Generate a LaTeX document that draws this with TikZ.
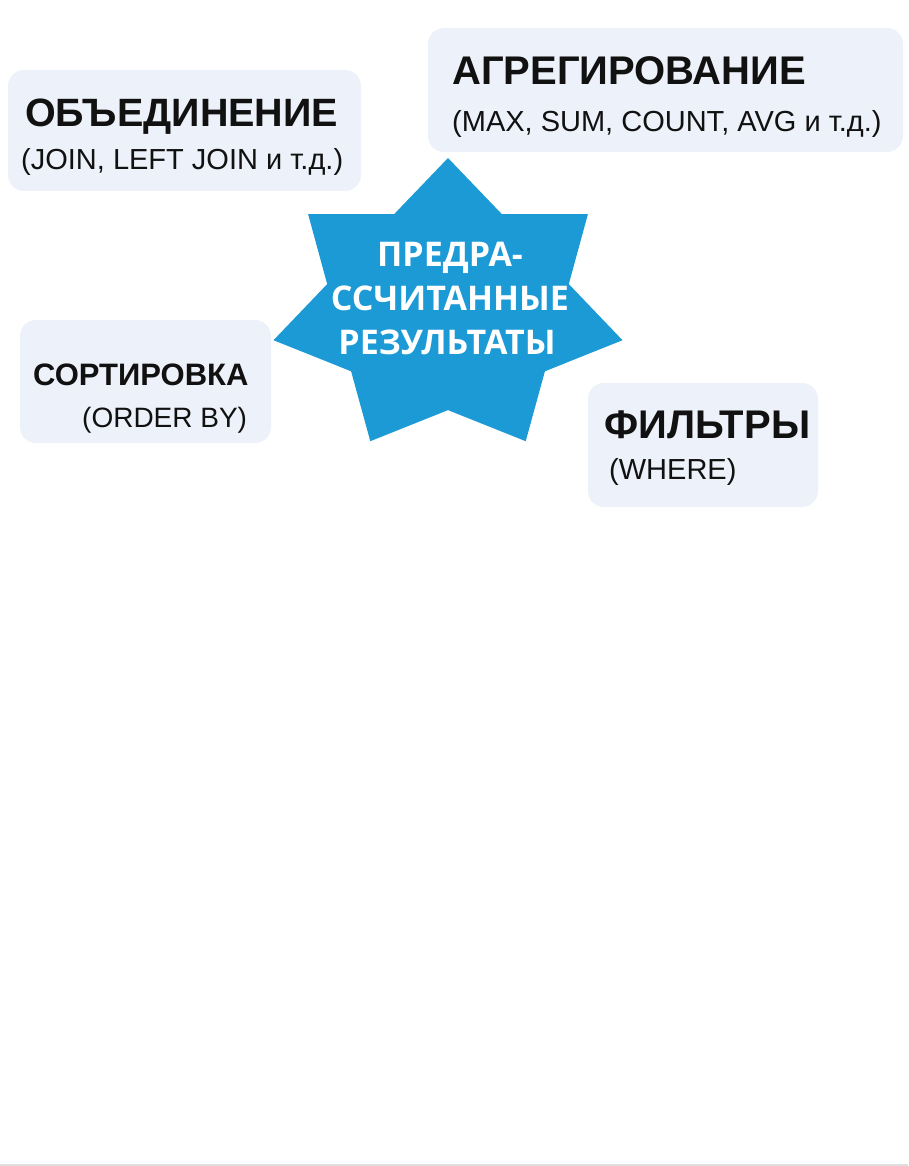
\documentclass[tikz,border=0pt]{standalone}
\usepackage{fontspec}
\setmainfont{Liberation Sans}
\newfontfamily\starfont{Open Sans}
\definecolor{boxfill}{HTML}{EDF2FA}
\definecolor{starblue}{HTML}{1B9AD6}
\definecolor{ink}{HTML}{111111}
\tikzset{
  card/.style={fill=boxfill, draw=none, rounded corners=16pt, inner sep=0pt},
  title/.style={anchor=base west, inner sep=0pt, text=ink, font=\bfseries\fontsize{40}{44}\selectfont},
  sub/.style={anchor=base west, inner sep=0pt, text=ink, font=\fontsize{29}{33}\selectfont},
  startext/.style={anchor=base, inner sep=0pt, text=white, font=\starfont\bfseries\fontsize{34}{36}\selectfont}
}
\begin{document}
\begin{tikzpicture}[x=1pt,y=-1pt]
\path[use as bounding box, fill=white] (0,0) rectangle (908,1166);
\draw[gray!25, line width=1.5pt] (0,1165) -- (908,1165);

% cards
\node[card, minimum width=353pt, minimum height=121pt] (c1) at (184.5,130.5) {};
\node[card, minimum width=475pt, minimum height=124pt] (c2) at (665.5,90) {};
\node[card, minimum width=251pt, minimum height=123pt] (c3) at (145.5,381.5) {};
\node[card, minimum width=230pt, minimum height=124pt] (c4) at (703,445) {};

% star
\fill[starblue] (448,158) -- (501.8,214.1) -- (587.9,214.1) -- (568.8,284.1)
  -- (622.5,340.2) -- (544.9,371.3) -- (525.7,441.2) -- (448,410.1)
  -- (370.3,441.2) -- (351.1,371.3) -- (273.5,340.2) -- (327.2,284.1)
  -- (308.1,214.1) -- (394.2,214.1) -- cycle;

% texts
\node[title, font=\bfseries\fontsize{39.5}{44}\selectfont] (t1) at (25,127) {ОБЪЕДИНЕНИЕ};
\node[sub] (s1) at (21,170) {(JOIN, LEFT JOIN и т.д.)};
\node[title] (t2) at (452,85) {АГРЕГИРОВАНИЕ};
\node[sub] (s2) at (452,132) {(MAX, SUM, COUNT, AVG и т.д.)};
\node[title, font=\bfseries\fontsize{31}{35}\selectfont] (t3) at (33,385) {СОРТИРОВКА};
\node[sub, font=\fontsize{28}{32}\selectfont] (s3) at (82,427) {(ORDER BY)};
\node[title] (t4) at (604,438) {ФИЛЬТРЫ};
\node[sub] (s4) at (609,479) {(WHERE)};

\node[startext] (l1) at (450,266) {ПРЕДРА-};
\node[startext] (l2) at (450,310) {ССЧИТАННЫЕ};
\node[startext] (l3) at (447,354) {РЕЗУЛЬТАТЫ};
\end{tikzpicture}
\end{document}
